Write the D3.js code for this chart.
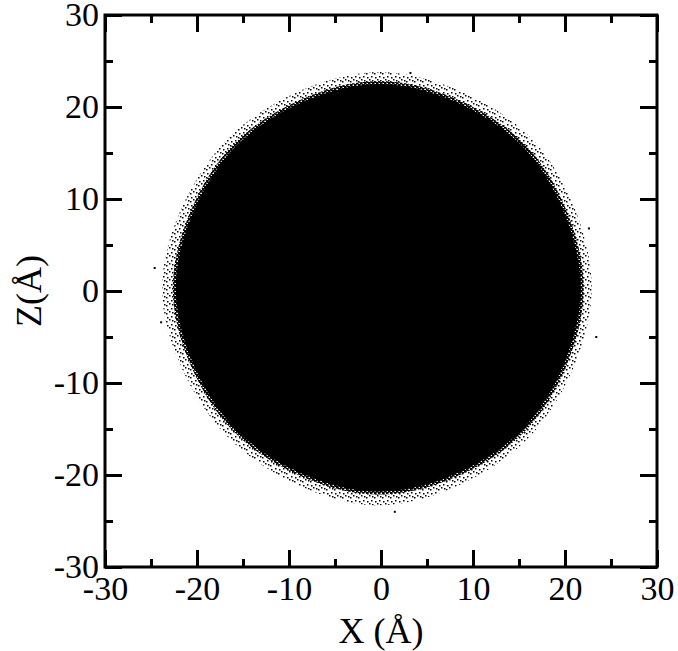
<!DOCTYPE html>
<html lang="en">
    <head>
        <style>
            body { margin: 0; background: #fff; }
            .tick line { stroke: #000; stroke-width: 3px; }
            .domain { display: none; }
        </style>
        <script src="https://d3js.org/d3.v7.min.js"></script>
        <title>X-Z projection</title>
    </head>
    <body>
        <div id="chart"></div>
        <script>
            // axis ticks
            var majorTicks = [-30, -20, -10, 0, 10, 20, 30];
            var minorTicks = [-25, -15, -5, 5, 15, 25];

            // edge of the point cloud (angle in deg from +X, radii in Å)
            var edgeAngle = [0, 45, 90, 135, 180, 225, 270, 315];
            var solidR = [21.9, 22.0, 22.3, 22.0, 22.1, 21.8, 22.0, 21.8];
            var fuzzR = [23.1, 23.3, 23.6, 23.2, 23.6, 23.0, 23.5, 22.9];
            var centre = [-0.2, 0.2];

            // a few stray points outside the cloud
            var strayX = [-24.6, 23.4, 3.2, 1.5, -23.9, 22.6];
            var strayZ = [2.5, -5.0, 23.7, -24.0, -3.4, 6.8];

            var serif = "'Liberation Serif', 'Times New Roman', Times, 'Nimbus Roman', 'Noto Serif', 'DejaVu Serif', serif";

            var margin = {top: 15, right: 21, bottom: 84, left: 105},
                width = 552,
                height = 552;

            var svg = d3.select("#chart")
                .append("svg")
                    .attr("width", 678)
                    .attr("height", 651);

            var defs = svg.append("defs");
            var sparse = defs.append("pattern")
                .attr("id", "sparse")
                .attr("patternUnits", "userSpaceOnUse")
                .attr("width", 8).attr("height", 8);
            [[0, 0], [5, 2], [2, 5], [6, 6], [3, 1]].forEach(function(p) {
                sparse.append("rect").attr("x", p[0]).attr("y", p[1])
                    .attr("width", 1.5).attr("height", 1.5).attr("fill", "#000");
            });
            var dense = defs.append("pattern")
                .attr("id", "dense")
                .attr("patternUnits", "userSpaceOnUse")
                .attr("width", 4).attr("height", 4);
            [[0, 0], [2, 1], [1, 2], [3, 3], [0, 3], [2, 3], [3, 0], [1, 1]].forEach(function(p) {
                dense.append("rect").attr("x", p[0]).attr("y", p[1])
                    .attr("width", 1.5).attr("height", 1.5).attr("fill", "#000");
            });

            var g = svg.append("g")
                .attr("transform", "translate(" + margin.left + "," + margin.top + ")");

            var x = d3.scaleLinear().domain([-30, 30]).range([0, width]);
            var y = d3.scaleLinear().domain([-30, 30]).range([height, 0]);

            function ring(radii) {
                return edgeAngle.map(function(a, i) {
                    var t = a * Math.PI / 180;
                    return {x: centre[0] + radii[i] * Math.cos(t), z: centre[1] + radii[i] * Math.sin(t)};
                });
            }

            var edge = d3.line()
                .x(function(d) { return x(d.x); })
                .y(function(d) { return y(d.z); })
                .curve(d3.curveCatmullRomClosed.alpha(0.5));

            g.append("path")
                .datum(ring(fuzzR))
                .attr("d", edge)
                .attr("fill", "url(#sparse)");

            g.append("path")
                .datum(ring(solidR))
                .attr("d", edge)
                .attr("fill", "#000")
                .attr("stroke", "url(#dense)")
                .attr("stroke-width", 6);

            g.selectAll(".stray")
                .data(strayX)
                .enter().append("rect")
                    .attr("class", "stray")
                    .attr("x", function(d) { return x(d) - 1; })
                    .attr("y", function(d, i) { return y(strayZ[i]) - 1; })
                    .attr("width", 2)
                    .attr("height", 2)
                    .attr("fill", "#000");

            var fmt = function(d) { return String(d); };

            // major ticks with labels
            g.append("g")
                .attr("transform", "translate(0," + height + ")")
                .call(d3.axisBottom(x).tickValues(majorTicks).tickFormat(fmt)
                    .tickSizeInner(-17).tickSizeOuter(0).tickPadding(9));
            g.append("g")
                .call(d3.axisLeft(y).tickValues(majorTicks).tickFormat(fmt)
                    .tickSizeInner(-17).tickSizeOuter(0).tickPadding(6));
            g.append("g")
                .call(d3.axisTop(x).tickValues(majorTicks).tickFormat("")
                    .tickSizeInner(-17).tickSizeOuter(0));
            g.append("g")
                .attr("transform", "translate(" + width + ",0)")
                .call(d3.axisRight(y).tickValues(majorTicks).tickFormat("")
                    .tickSizeInner(-17).tickSizeOuter(0));

            // minor ticks
            g.append("g")
                .attr("transform", "translate(0," + height + ")")
                .call(d3.axisBottom(x).tickValues(minorTicks).tickFormat("").tickSizeInner(-8).tickSizeOuter(0));
            g.append("g")
                .call(d3.axisLeft(y).tickValues(minorTicks).tickFormat("").tickSizeInner(-8).tickSizeOuter(0));
            g.append("g")
                .call(d3.axisTop(x).tickValues(minorTicks).tickFormat("").tickSizeInner(-8).tickSizeOuter(0));
            g.append("g")
                .attr("transform", "translate(" + width + ",0)")
                .call(d3.axisRight(y).tickValues(minorTicks).tickFormat("").tickSizeInner(-8).tickSizeOuter(0));

            g.selectAll(".tick text")
                .style("font-family", serif)
                .style("font-size", "34px")
                .attr("fill", "#000");

            // frame
            g.append("rect")
                .attr("width", width)
                .attr("height", height)
                .attr("fill", "none")
                .attr("stroke", "#000")
                .attr("stroke-width", 3);

            g.append("text")
                .attr("x", width / 2)
                .attr("y", height + 76)
                .attr("text-anchor", "middle")
                .style("font-family", serif)
                .style("font-size", "36px")
                .text("X (Å)");

            g.append("text")
                .attr("transform", "translate(-64," + (height / 2) + ") rotate(-90)")
                .attr("text-anchor", "middle")
                .style("font-family", serif)
                .style("font-size", "36px")
                .text("Z(Å)");
        </script>
    </body>
</html>
